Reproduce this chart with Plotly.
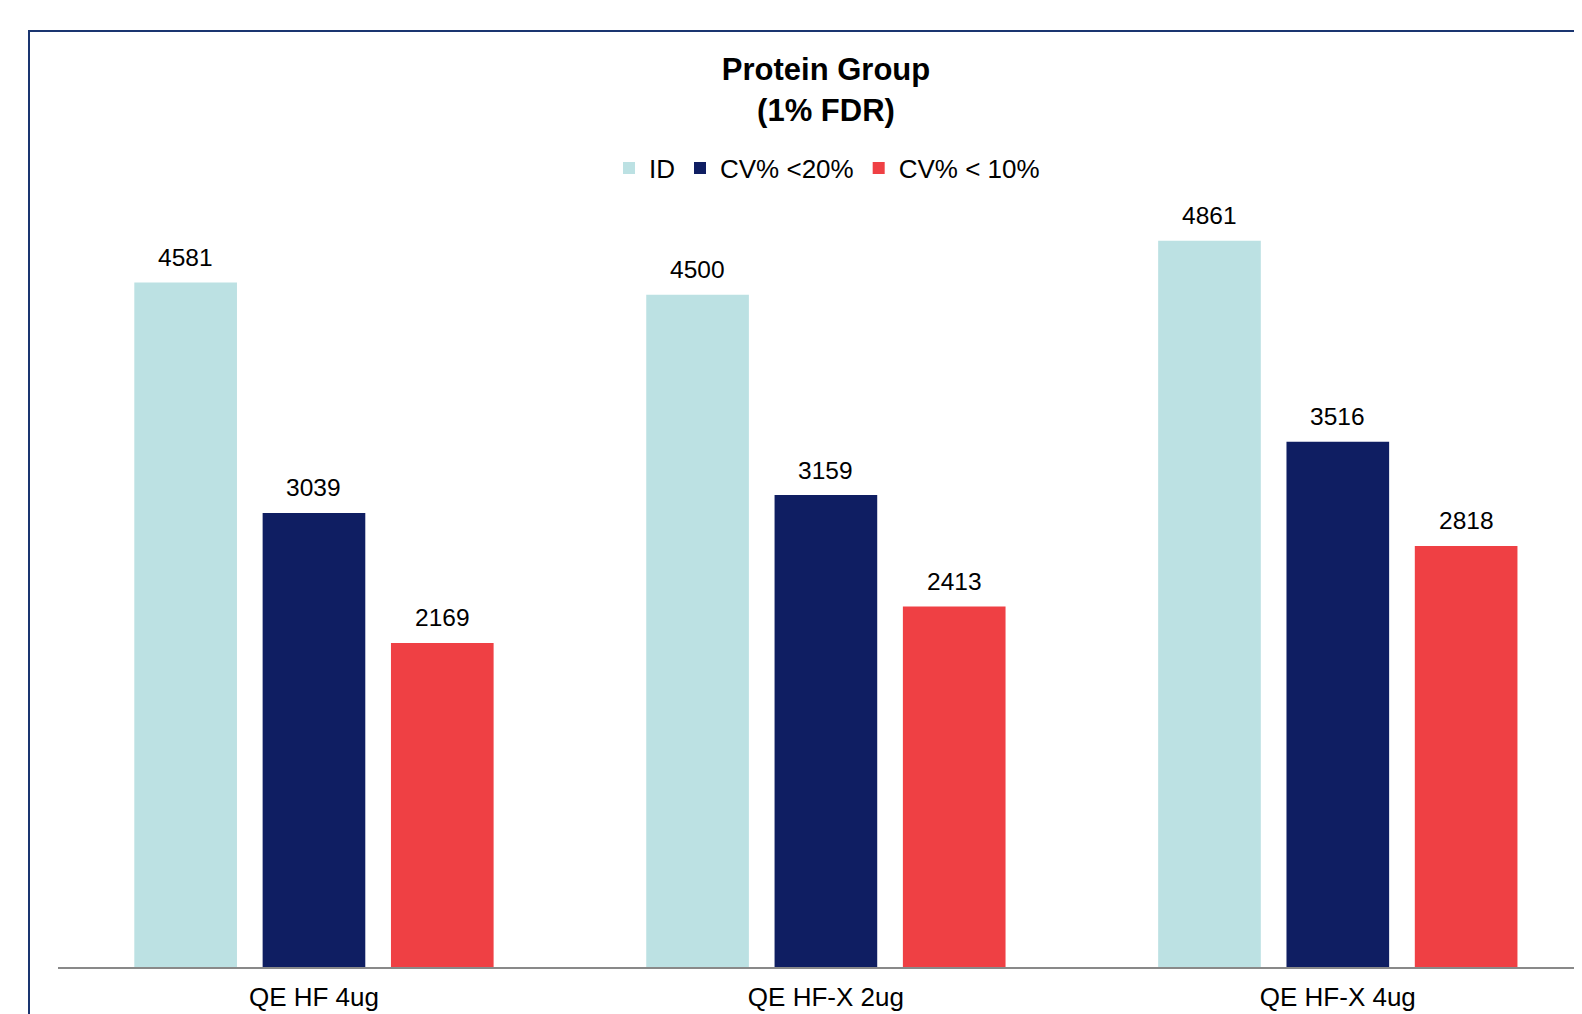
import plotly.graph_objects as go

categories = ["QE HF 4ug", "QE HF-X 2ug", "QE HF-X 4ug"]
series_names = ["ID", "CV% <20%", "CV% < 10%"]
id_values = [4581, 4500, 4861]
cv20_values = [3039, 3159, 3516]
cv10_values = [2169, 2413, 2818]
colors = ["#BCE1E3", "#0F1E62", "#EF4044"]

series_values = [id_values, cv20_values, cv10_values]

# page body has an 8px margin; figure sized to reach the window edges
W, H = 1574, 1006
ML, MR, MT, MB = 50, 0, 23, 47
PW = W - ML - MR
BARGAP = 0.248
BARGROUPGAP = 0.2
FONT = "Liberation Sans, Arial, sans-serif"

fig = go.Figure()
for name, vals, col in zip(series_names, series_values, colors):
    fig.add_trace(go.Bar(
        x=categories, y=vals, name=name,
        marker=dict(color=col, line=dict(width=0)),
        hoverinfo="x+y+name",
    ))

# value labels above bars, positioned on the data axes
n = len(series_values)
slot = (1 - BARGAP) / n
for ti, vals in enumerate(series_values):
    off = (ti - (n - 1) / 2) * slot
    for ci, v in enumerate(vals):
        fig.add_annotation(
            x=ci + off, y=v, xref="x", yref="y",
            text=str(v), showarrow=False,
            yanchor="middle", yshift=25,
            font=dict(size=24.5, color="#000000", family=FONT),
        )

# frame of the (cropped) chart area
fig.add_shape(
    type="rect", xref="paper", yref="paper",
    x0=(21 - ML) / PW, x1=1.05, y0=-0.2, y1=1.0,
    line=dict(color="#1A3570", width=2), fillcolor="rgba(0,0,0,0)",
    layer="above",
)

fig.update_layout(
    width=W, height=H,
    margin=dict(l=ML, r=MR, t=MT, b=MB, pad=0, autoexpand=False),
    paper_bgcolor="white", plot_bgcolor="white",
    barmode="group", bargap=BARGAP, bargroupgap=BARGROUPGAP,
    font=dict(family=FONT, color="#000000"),
    title=dict(
        text="<b>Protein Group<br>(1% FDR)</b>",
        x=(818 - ML) / PW, xref="paper", xanchor="center",
        y=1 - 72.3 / H, yref="container", yanchor="middle",
        font=dict(size=31, family=FONT, color="#000000"),
    ),
    legend=dict(
        orientation="h", x=(819 - ML) / PW, xanchor="center",
        y=(H - MB - 160) / (H - MT - MB), yanchor="middle",
        font=dict(size=26, family=FONT, color="#000000"),
        itemwidth=30, bgcolor="rgba(0,0,0,0)",
    ),
    xaxis=dict(
        range=[-0.5, 2.477], showline=True, linecolor="#898989", linewidth=2,
        showgrid=False, zeroline=False, ticks="",
        tickfont=dict(size=26, family=FONT, color="#000000"),
        ticklabelstandoff=6, fixedrange=True,
    ),
    yaxis=dict(
        range=[0, 6265], visible=False, showgrid=False, zeroline=False,
        fixedrange=True,
    ),
    showlegend=True,
)

fig.write_html("out.html")
